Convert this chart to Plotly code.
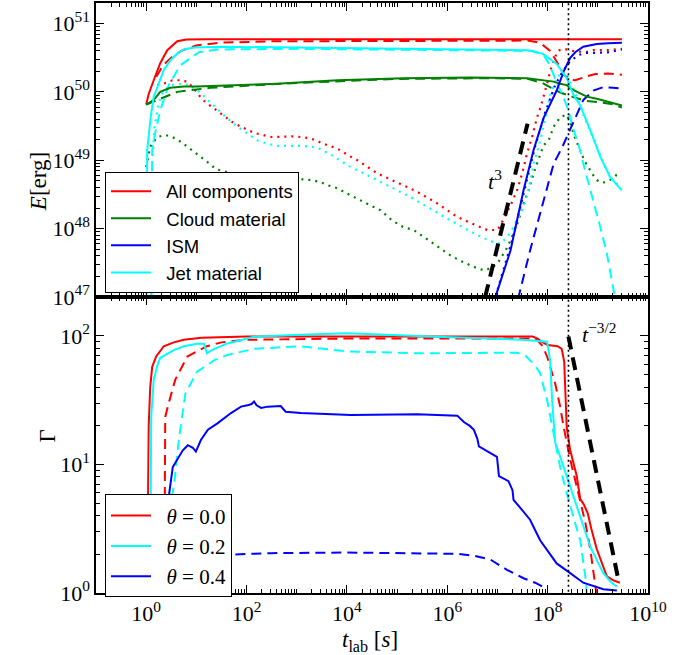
import plotly.graph_objects as go
from plotly.subplots import make_subplots

# ---------------- data (stored as log10 values) -------------
# TOP PANEL: energy E [erg] vs t_lab [s]
lt_all_0 = [0.0, 0.05, 0.15, 0.28, 0.42, 0.62, 0.8, 0.95, 1.2, 3, 6, 8, 9.48]
lE_all_0 = [49.815, 49.97, 50.17, 50.42, 50.61, 50.74, 50.765, 50.77, 50.77, 50.77, 50.77, 50.77, 50.77]

lt_all_2 = [0.2, 0.35, 0.5, 0.7, 1.0, 1.5, 2.5, 5, 7.6, 7.85, 8.05, 8.2, 8.32, 8.45, 8.55, 8.75, 8.95, 9.2, 9.48]
lE_all_2 = [50.22, 50.4, 50.5, 50.6, 50.68, 50.72, 50.74, 50.75, 50.75, 50.72, 50.6, 50.42, 50.25, 50.18, 50.17, 50.22, 50.26, 50.27, 50.25]

lt_all_4 = [0.22, 0.35, 0.52, 0.67, 0.82, 0.95, 1.05, 1.18, 1.31, 1.75, 2.15, 2.5, 2.97, 3.28, 3.54, 3.81, 4.08, 4.21,
            4.6, 5.0, 5.4, 5.8, 6.2, 6.6, 6.8, 7.0, 7.06, 7.26, 7.39, 7.49, 7.59, 7.69, 7.79, 7.87, 7.95, 8.09, 8.2,
            8.32, 8.5, 8.75, 8.91, 9.2, 9.48]
lE_all_4 = [50.1, 50.12, 50.17, 50.17, 50.15, 50.05, 49.95, 49.85, 49.78, 49.54, 49.4, 49.34, 49.35, 49.32, 49.24,
            49.17, 49.05, 49.0, 48.81, 48.68, 48.54, 48.37, 48.17, 48.04, 47.98, 47.98, 48.05, 48.34, 48.56, 48.8,
            49.1, 49.34, 49.63, 49.8, 50.02, 50.4, 50.6, 50.63, 50.6, 50.58, 50.61, 50.61, 50.63]

lt_cloud_0 = [0.0, 0.15, 0.28, 0.48, 0.75, 1.01, 2.6, 3.81, 5.14, 6.46, 7.59, 7.92, 8.12, 8.25, 8.38, 8.45, 8.58,
              8.65, 8.78, 8.98, 9.24, 9.48]
lE_cloud_0 = [49.815, 49.88, 50.0, 50.06, 50.08, 50.08, 50.12, 50.17, 50.2, 50.21, 50.2, 50.17, 50.15, 50.12, 50.1,
              50.05, 50.0, 49.97, 49.93, 49.9, 49.85, 49.8]

lt_cloud_2 = [0.0, 0.3, 0.62, 0.95, 1.28, 2, 3, 5, 7, 7.6, 7.9, 8.02, 8.25, 8.45, 8.75, 9.0, 9.3, 9.48]
lE_cloud_2 = [49.815, 49.9, 50.0, 50.03, 50.06, 50.09, 50.13, 50.19, 50.2, 50.19, 50.13, 50.08, 49.99, 49.94, 49.87,
              49.85, 49.82, 49.77]

lt_cloud_4 = [0.0, 0.08, 0.22, 0.38, 0.52, 0.65, 0.78, 0.91, 1.05, 1.15, 1.28, 1.39, 1.76, 2.2, 2.8, 3.3, 3.48, 3.64,
              3.81, 4.01, 4.27, 4.47, 4.67, 4.9, 5.13, 5.33, 5.53, 5.73, 5.93, 6.06, 6.26, 6.53, 6.73, 6.87, 7.0, 7.1,
              7.2, 7.32, 7.42, 7.52, 7.62, 7.72, 7.82, 7.92, 8.02, 8.12, 8.25, 8.38, 8.45, 8.55, 8.73, 8.89, 8.98,
              9.1, 9.24, 9.36, 9.41]
lE_cloud_4 = [48.9, 49.2, 49.34, 49.37, 49.34, 49.29, 49.22, 49.15, 49.07, 49.01, 48.94, 48.87, 48.8, 48.76, 48.74,
              48.71, 48.68, 48.63, 48.59, 48.51, 48.41, 48.34, 48.27, 48.12, 48.02, 47.98, 47.88, 47.78, 47.68,
              47.61, 47.53, 47.44, 47.39, 47.42, 47.49, 47.61, 47.73, 47.93, 48.12, 48.37, 48.56, 48.81, 49.0,
              49.22, 49.29, 49.49, 49.63, 49.67, 49.55, 49.32, 49.0, 48.8, 48.71, 48.67, 48.71, 48.78, 48.78]

lt_ism_0 = [6.9, 6.96, 7.26, 7.52, 7.72, 7.92, 8.18, 8.32, 8.45, 8.55, 8.71, 8.98, 9.2, 9.48]
lE_ism_0 = [46.5, 47.0, 47.68, 48.56, 49.15, 49.62, 50.02, 50.3, 50.5, 50.58, 50.66, 50.7, 50.71, 50.72]

lt_ism_2 = [7.38, 7.42, 7.65, 7.89, 8.12, 8.29, 8.49, 8.71, 8.91, 9.11, 9.3, 9.48]
lE_ism_2 = [46.5, 47.0, 47.68, 48.32, 48.95, 49.19, 49.51, 49.88, 50.02, 50.07, 50.06, 50.05]

lt_ism_4 = [6.9, 7.0, 7.3, 7.55, 7.75, 7.95, 8.15, 8.3, 8.45, 8.62, 8.75, 8.91, 9.08, 9.24, 9.41, 9.48]
lE_ism_4 = [46.5, 47.1, 47.85, 48.6, 49.2, 49.7, 50.1, 50.3, 50.45, 50.54, 50.57, 50.57, 50.58, 50.58, 50.61, 50.62]

lt_jet_0 = [0.005, 0.02, 0.09, 0.15, 0.25, 0.35, 0.48, 0.62, 0.75, 0.95, 1.5, 3, 6.26, 7.59, 7.9, 8.18, 8.38, 8.52,
            8.65, 8.85, 9.05, 9.24, 9.44, 9.48]
lE_jet_0 = [46.5, 49.15, 49.63, 49.93, 50.12, 50.32, 50.46, 50.56, 50.62, 50.65, 50.66, 50.65, 50.62, 50.61, 50.56,
            50.41, 50.2, 49.95, 49.8, 49.44, 49.05, 48.76, 48.59, 48.56]

lt_jet_2 = [0.1, 0.12, 0.19, 0.28, 0.45, 0.68, 1.05, 1.42, 3, 6, 7.7, 7.92, 8.02, 8.09, 8.2, 8.3, 8.42, 8.49, 8.63,
            8.75, 8.88, 9.05, 9.18, 9.28, 9.34]
lE_jet_2 = [46.5, 49.15, 49.44, 49.73, 50.1, 50.39, 50.58, 50.62, 50.63, 50.61, 50.6, 50.54, 50.42, 50.3, 50.1,
            49.95, 49.72, 49.51, 49.19, 48.84, 48.5, 48.02, 47.64, 47.24, 47.0]

lt_jet_4 = [0.08, 0.12, 0.17, 0.25, 0.35, 0.5, 0.7, 0.85, 1.03, 1.23, 1.43, 1.62, 1.82, 2.02, 2.22, 2.42, 2.62, 3.1,
            3.4, 3.68, 4.08, 4.47, 4.87, 5.27, 5.67, 6.06, 6.46, 6.7, 6.93, 7.06, 7.2, 7.32, 7.52, 7.62, 7.72, 7.82,
            7.95, 8.05, 8.15, 8.28, 8.35, 8.45, 8.58, 8.75, 8.95, 9.15, 9.3, 9.48]
lE_jet_4 = [46.5, 49.0, 49.5, 49.85, 50.02, 50.1, 50.12, 50.1, 50.02, 49.88, 49.73, 49.61, 49.49, 49.39, 49.29,
            49.24, 49.21, 49.21, 49.19, 49.08, 48.9, 48.76, 48.61, 48.46, 48.29, 48.12, 47.96, 47.87, 47.8, 47.78,
            47.88, 48.02, 48.32, 48.56, 48.95, 49.19, 49.6, 49.95, 50.15, 50.3, 50.3, 50.15, 49.93, 49.6, 49.25,
            48.9, 48.7, 48.6]

lt_t3 = [6.755, 7.6]
lE_t3 = [47.0, 49.535]

# BOTTOM PANEL: Lorentz factor Gamma vs t_lab [s]
lt_g0_s = [0.02, 0.03, 0.05, 0.08, 0.12, 0.2, 0.35, 0.55, 0.75, 1.1, 1.4, 2.0, 4, 6, 7.7, 7.8, 7.88, 8.0, 8.2, 8.28,
           8.33, 8.36, 8.38, 8.45, 8.52, 8.58, 8.65, 8.72, 8.8, 8.87, 8.98, 9.1, 9.18, 9.3, 9.44]
lG_g0_s = [0.0, 0.6, 1.3, 1.6, 1.76, 1.84, 1.92, 1.95, 1.97, 1.985, 1.99, 1.995, 1.995, 1.995, 1.995, 1.98, 1.955,
           1.93, 1.92, 1.9, 1.8, 1.5, 1.29, 1.11, 1.0, 0.91, 0.73, 0.69, 0.62, 0.5, 0.34, 0.22, 0.13, 0.1, 0.08]

lt_g0_d = [0.36, 0.37, 0.38, 0.45, 0.58, 0.82, 1.21, 1.5, 2.0, 4, 7.7, 7.79, 7.9, 7.99, 8.08, 8.15, 8.25, 8.32,
           8.45, 8.55, 8.65, 8.75, 8.85, 8.92, 8.97]
lG_g0_d = [0.0, 0.8, 1.37, 1.48, 1.66, 1.84, 1.92, 1.95, 1.97, 1.98, 1.98, 1.97, 1.92, 1.84, 1.73, 1.63, 1.45, 1.29,
           1.04, 0.88, 0.725, 0.55, 0.34, 0.15, 0.0]

lt_g2_s = [0.08, 0.09, 0.1, 0.15, 0.23, 0.28, 0.43, 0.55, 0.75, 1.01, 1.15, 1.21, 1.31, 1.42, 1.6, 1.76, 2.15, 3.08,
           4.0, 6.06, 7.5, 7.99, 8.05, 8.09, 8.15, 8.25, 8.32, 8.45, 8.55, 8.65, 8.85, 9.0, 9.11, 9.25, 9.38]
lG_g2_s = [0.0, 0.9, 1.37, 1.66, 1.78, 1.83, 1.86, 1.89, 1.92, 1.94, 1.94, 1.865, 1.89, 1.91, 1.94, 1.955, 1.994,
           2.01, 2.02, 1.99, 1.97, 1.955, 1.81, 1.5, 1.17, 1.06, 0.98, 0.83, 0.72, 0.6, 0.36, 0.24, 0.155, 0.09, 0.05]

lt_g2_d = [0.35, 0.36, 0.45, 0.56, 0.65, 0.78, 1.01, 1.35, 1.6, 2.15, 3.08, 4.0, 5.4, 7.39, 7.55, 7.65, 7.75, 7.85,
           7.99, 8.12, 8.25, 8.35, 8.45, 8.55, 8.65, 8.75, 8.78]
lG_g2_d = [0.0, 0.3, 0.6, 0.855, 1.19, 1.55, 1.72, 1.81, 1.85, 1.90, 1.92, 1.88, 1.865, 1.87, 1.85, 1.81, 1.77, 1.71,
           1.5, 1.24, 0.98, 0.82, 0.67, 0.54, 0.41, 0.13, 0.0]

lt_g4_s = [0.43, 0.46, 0.53, 0.63, 0.73, 0.83, 0.93, 0.99, 1.09, 1.23, 1.42, 1.69, 1.89, 2.02, 2.1, 2.15, 2.2, 2.29,
           2.42, 2.68, 2.78, 3.08, 3.74, 4.08, 5.4, 6.2, 6.33, 6.45, 6.53, 6.6, 6.63, 6.86, 6.99, 7.03, 7.22, 7.3,
           7.32, 7.46, 7.65, 7.85, 8.18, 8.45, 8.71, 9.11, 9.38]
lG_g4_s = [0.0, 0.78, 0.98, 1.04, 1.11, 1.15, 1.13, 1.10, 1.19, 1.27, 1.32, 1.40, 1.45, 1.46, 1.47, 1.49, 1.46, 1.44,
           1.45, 1.455, 1.41, 1.40, 1.39, 1.385, 1.39, 1.38, 1.33, 1.3, 1.27, 1.2, 1.14, 1.09, 1.06, 0.91, 0.87,
           0.8, 0.725, 0.66, 0.57, 0.41, 0.23, 0.155, 0.08, 0.03, 0.02]

lt_g4_d = [0.43, 0.55, 0.7, 0.9, 1.2, 1.76, 2.5, 4.0, 5.4, 6.2, 6.53, 6.86, 7.19, 7.52, 7.75, 7.95]
lG_g4_d = [0.0, 0.04, 0.08, 0.15, 0.25, 0.3, 0.31, 0.315, 0.31, 0.305, 0.29, 0.26, 0.18, 0.115, 0.08, 0.04]

lt_t32 = [8.415, 9.41]
lG_t32 = [1.994, 0.103]

t_break = 2.6e8  # vertical dotted marker

top_names = ["All components", "Cloud material", "ISM", "Jet material"]
theta_names = ["<i>θ</i> = 0.0", "<i>θ</i> = 0.2", "<i>θ</i> = 0.4"]

# ---------------- figure -----------------
RED, GREEN, BLUE, CYAN = "#ff0000", "#008000", "#0000ff", "#00ffff"
SOLID, DASH, DOT = "solid", "10px,6px", "2px,5px"
PAD = "\u00a0\u00a0"


def p(a):
    return [10.0 ** v for v in a]


fig = make_subplots(rows=2, cols=1, shared_xaxes=True, vertical_spacing=0)


def add(lt, ly, color, dash, row, width=2.0, name=None, legend=None, rank=None):
    fig.add_trace(go.Scatter(
        x=p(lt), y=p(ly), mode="lines",
        line=dict(color=color, width=width, dash=dash),
        name=(PAD + name) if name else "", showlegend=name is not None,
        legend=legend, legendrank=rank if rank else 1000, hoverinfo="skip"),
        row=row, col=1)


# top panel
add(lt_cloud_4, lE_cloud_4, GREEN, DOT, 1, 2.2)
add(lt_jet_4, lE_jet_4, CYAN, DOT, 1, 2.2)
add(lt_all_4, lE_all_4, RED, DOT, 1, 2.2)
add(lt_ism_4, lE_ism_4, BLUE, DOT, 1, 2.2)
add(lt_cloud_2, lE_cloud_2, GREEN, DASH, 1)
add(lt_jet_2, lE_jet_2, CYAN, DASH, 1)
add(lt_all_2, lE_all_2, RED, DASH, 1)
add(lt_ism_2, lE_ism_2, BLUE, DASH, 1)
add(lt_all_0, lE_all_0, RED, SOLID, 1, name=top_names[0], legend="legend", rank=1)
add(lt_cloud_0, lE_cloud_0, GREEN, SOLID, 1, name=top_names[1], legend="legend", rank=2)
add(lt_ism_0, lE_ism_0, BLUE, SOLID, 1, name=top_names[2], legend="legend", rank=3)
add(lt_jet_0, lE_jet_0, CYAN, SOLID, 1, name=top_names[3], legend="legend", rank=4)
add(lt_t3, lE_t3, "black", "13px,8px", 1, width=4)
fig.add_trace(go.Scatter(x=[t_break, t_break], y=[1e46, 1e52], mode="lines", showlegend=False,
                         line=dict(color="black", width=1.6, dash="2px,3px"), hoverinfo="skip"), row=1, col=1)

# bottom panel
add(lt_g4_d, lG_g4_d, BLUE, DASH, 2)
add(lt_g2_d, lG_g2_d, CYAN, DASH, 2)
add(lt_g0_d, lG_g0_d, RED, DASH, 2)
add(lt_g4_s, lG_g4_s, BLUE, SOLID, 2, name=theta_names[2], legend="legend2", rank=3)
add(lt_g0_s, lG_g0_s, RED, SOLID, 2, name=theta_names[0], legend="legend2", rank=1)
add(lt_g2_s, lG_g2_s, CYAN, SOLID, 2, name=theta_names[1], legend="legend2", rank=2)
add(lt_t32, lG_t32, "black", "13px,8px", 2, width=4)
fig.add_trace(go.Scatter(x=[t_break, t_break], y=[0.5, 500], mode="lines", showlegend=False,
                         line=dict(color="black", width=1.6, dash="2px,3px"), hoverinfo="skip"), row=2, col=1)

SERIF = "Liberation Serif"
tickfont = dict(family=SERIF, size=22, color="black")


def minor_vals(d0, d1):
    return [float(m) * 10.0 ** d for d in range(d0, d1) for m in range(2, 10)]


axis_common = dict(type="log", showline=True, linecolor="black", linewidth=1.5, mirror="allticks",
                   ticks="inside", ticklen=8, tickwidth=1.2, tickcolor="black", showgrid=False,
                   zeroline=False, tickfont=tickfont, automargin=False)

xmaj = [10.0 ** k for k in range(0, 11, 2)]
xminor = minor_vals(-1, 10) + [10.0 ** k for k in range(1, 11, 2)]
for ax in ("xaxis", "xaxis2"):
    fig.layout[ax].update(**axis_common, range=[-1, 10], tickmode="array", tickvals=xmaj,
                          ticktext=[f"10<sup>{k}</sup>" for k in range(0, 11, 2)],
                          minor=dict(tickmode="array", tickvals=xminor, ticks="inside", ticklen=4,
                                     tickwidth=1, tickcolor="black", showgrid=False))
fig.layout.xaxis.showticklabels = False

fig.layout.yaxis.update(**axis_common, range=[47, 51.3], domain=[0.5017, 1], tickmode="array",
                        tickvals=[10.0 ** k for k in range(47, 52)],
                        ticktext=[f"10<sup>{k}</sup>" for k in range(47, 52)],
                        minor=dict(tickmode="array", tickvals=minor_vals(47, 52), ticks="inside", ticklen=4,
                                   tickwidth=1, tickcolor="black", showgrid=False))
fig.layout.yaxis2.update(**axis_common, range=[0, 2.303], domain=[0, 0.5017], tickmode="array",
                         tickvals=[1.0, 10.0, 100.0], ticktext=["10<sup>0</sup>", "10<sup>1</sup>", "10<sup>2</sup>"],
                         minor=dict(tickmode="array", tickvals=minor_vals(0, 3), ticks="inside", ticklen=4,
                                    tickwidth=1, tickcolor="black", showgrid=False))

fig.update_layout(
    width=700, height=655, margin=dict(l=96, r=52, t=3, b=62, autoexpand=False),
    paper_bgcolor="white", plot_bgcolor="white",
    legend=dict(x=0.0163, y=0.714, xanchor="left", yanchor="top", bgcolor="white",
                bordercolor="black", borderwidth=1, traceorder="normal",
                font=dict(family="Liberation Sans", size=18.5, color="black"),
                itemwidth=40, tracegroupgap=0),
    legend2=dict(x=0.0163, y=0.167, xanchor="left", yanchor="top", bgcolor="white",
                 bordercolor="black", borderwidth=1, traceorder="normal",
                 font=dict(family=SERIF, size=21, color="black"), itemwidth=40),
    annotations=[
        dict(text="<i>E</i>[erg]", x=-0.13, y=0.751, xref="paper", yref="paper", textangle=-90,
             showarrow=False, font=dict(family=SERIF, size=23, color="black")),
        dict(text="Γ", x=-0.115, y=0.251, xref="paper", yref="paper", textangle=-90,
             showarrow=False, font=dict(family=SERIF, size=23, color="black")),
        dict(text="<i>t</i><sub>lab</sub> [<i>s</i>]", x=0.496, y=-0.082, xref="paper", yref="paper",
             showarrow=False, yanchor="middle", font=dict(family=SERIF, size=23, color="black")),
        dict(text="<i>t</i><sup>3</sup>", x=6.96, y=48.71, xref="x", yref="y", showarrow=False,
             font=dict(family=SERIF, size=22, color="black")),
        dict(text="<i>t</i><sup>−3/2</sup>", x=8.65, y=2.02, xref="x2", yref="y2", showarrow=False,
             xanchor="left", font=dict(family=SERIF, size=22, color="black")),
    ],
)

fig.write_html("out.html", config={"displayModeBar": False},
               post_script="document.body.style.margin='0';document.body.style.overflow='hidden';")
